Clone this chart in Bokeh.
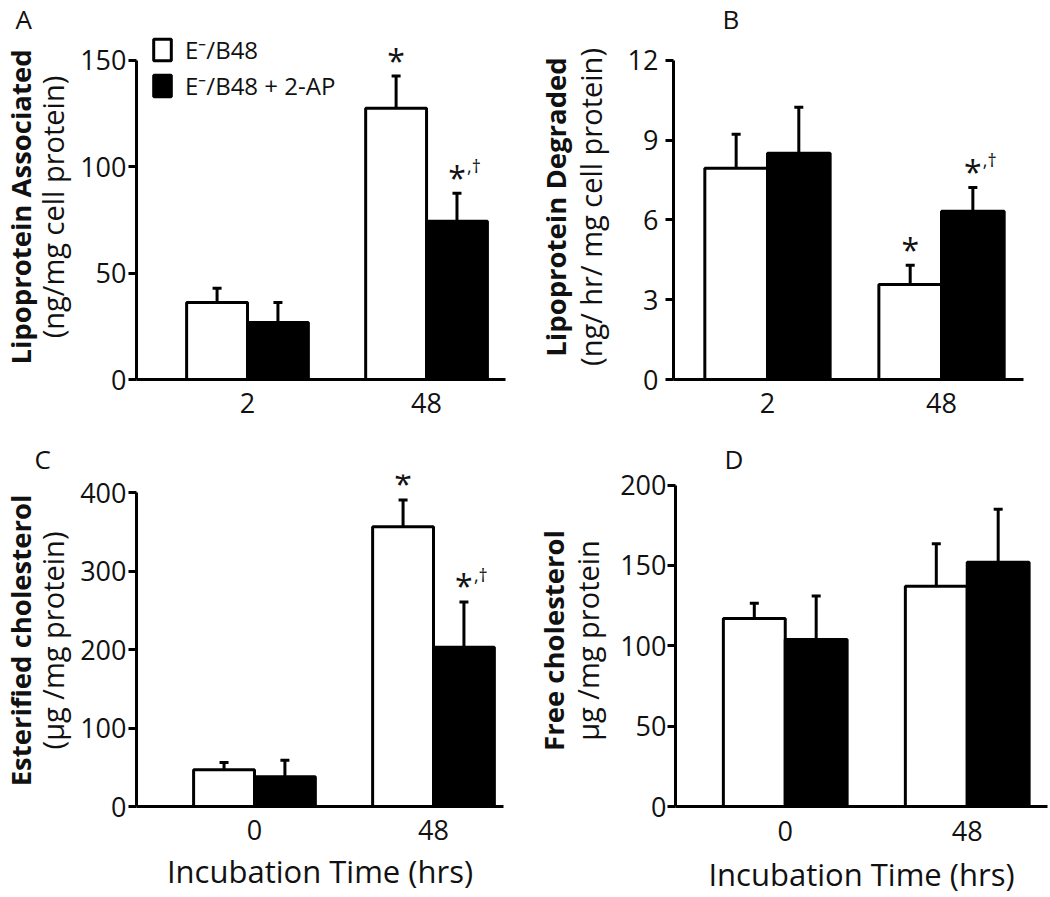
from bokeh.plotting import figure
from bokeh.models import (ColumnDataSource, Range1d, FixedTicker, Whisker, TeeHead,
                          Title, Legend, LegendItem)
from bokeh.layouts import row, column
from bokeh.core.properties import value
from bokeh.embed import file_html
from bokeh.resources import INLINE

FONT = "Open Sans"

series_names = ["E⁻/B48", "E⁻/B48 + 2-AP"]

# ---- Panel A : Lipoprotein associated
a_times = ["2", "48"]
a_ctrl = [36.2, 127.4]
a_ctrl_err = [6.6, 15.1]
a_ap = [26.8, 74.3]
a_ap_err = [9.4, 13.2]
a_ctrl_sig = ["", "*"]
a_ap_sig = ["", "*,†"]
a_yticks = [0, 50, 100, 150]

# ---- Panel B : Lipoprotein degraded
b_times = ["2", "48"]
b_ctrl = [7.94, 3.57]
b_ctrl_err = [1.28, 0.72]
b_ap = [8.50, 6.32]
b_ap_err = [1.73, 0.90]
b_ctrl_sig = ["", "*"]
b_ap_sig = ["", "*,†"]
b_yticks = [0, 3, 6, 9, 12]

# ---- Panel C : Esterified cholesterol
c_times = ["0", "48"]
c_ctrl = [47, 357]
c_ctrl_err = [9, 34]
c_ap = [38, 203]
c_ap_err = [21, 58]
c_ctrl_sig = ["", "*"]
c_ap_sig = ["", "*,†"]
c_yticks = [0, 100, 200, 300, 400]

# ---- Panel D : Free cholesterol
d_times = ["0", "48"]
d_ctrl = [117, 137]
d_ctrl_err = [9.5, 26.5]
d_ap = [104, 152]
d_ap_err = [27, 33]
d_ctrl_sig = ["", ""]
d_ap_sig = ["", ""]
d_yticks = [0, 50, 100, 150, 200]

# layout geometry (pixels / range ends)
GEOM = {
    "A": dict(w=520, h=440, bl=136, br=15, bb=61, y1=162.0, x0=0.380, x1=2.441, bw=0.34,
              toff=-121, mls=2, als=5, tso=-17, xls=13, xas=6, leg=(15, 277)),
    "B": dict(w=530, h=440, bl=153, br=27, bb=61, y1=12.965, x0=0.460, x1=2.471, bw=0.36,
              toff=49, mls=7, als=15, tso=-13, xls=13, xas=6),
    "C": dict(w=520, h=457, bl=136, br=17, bb=87, y1=423.5, x0=0.341, x1=2.391, bw=0.34,
              toff=-102, mls=2, als=5, tso=-17, xls=13, xas=7),
    "D": dict(w=530, h=457, bl=155, br=3, bb=90, y1=206.6, x0=0.397, x1=2.441, bw=0.34,
              toff=49, mls=1, als=10, tso=-13, xls=14, xas=9),
}

TICK_SIZE = "27px"
YLAB_SIZE = "29px"
YBOLD_SIZE = "27.5px"
XLAB_SIZE = "31px"
TXT = "#111111"


def make_panel(letter, cats, ctrl, ctrl_err, ap, ap_err, ctrl_sig, ap_sig, yticks,
               ylab_bold, ylab, xlab, show_legend=False):
    g = GEOM[letter]
    bw = g["bw"]
    centers = [i + 1 for i in range(len(cats))]
    p = figure(width=g["w"], height=g["h"], output_backend="svg", toolbar_location=None,
               x_range=Range1d(g["x0"], g["x1"]), y_range=Range1d(0, g["y1"]),
               min_border_left=g["bl"], min_border_right=g["br"], min_border_top=0,
               min_border_bottom=g["bb"], title=None)
    p.title = Title(text=letter, align="left", offset=g["toff"], standoff=-4,
                    text_font=FONT, text_font_size="26px", text_font_style="normal",
                    text_color=TXT)
    p.xgrid.visible = False
    p.ygrid.visible = False
    p.outline_line_color = None
    p.background_fill_color = "white"
    p.border_fill_color = "white"

    renderers = []
    for k, (vals, errs, sig, fill) in enumerate([(ctrl, ctrl_err, ctrl_sig, "white"),
                                                  (ap, ap_err, ap_sig, "black")]):
        xs = [c + (k - 0.5) * bw for c in centers]
        src = ColumnDataSource(dict(
            x=xs, top=vals, upper=[v + e for v, e in zip(vals, errs)],
            star=[s[:1] for s in sig], extra=[s[1:] for s in sig]))
        wh = Whisker(base="x", lower="top", upper="upper", dimension="height", source=src,
                     line_color="black", line_width=3, lower_head=None,
                     upper_head=TeeHead(size=9, line_width=3, line_color="black"))
        p.add_layout(wh)
        r = p.vbar(x="x", top="top", bottom=0, width=bw, source=src, fill_color=fill,
                   line_color="black", line_width=3)
        renderers.append(r)
        p.text(x="x", y="upper", text="star", source=src, text_align="center",
               text_baseline="alphabetic", y_offset=-16, text_font=value(FONT),
               text_font_size="32px", text_color=TXT)
        p.text(x="x", y="upper", text="extra", source=src, text_align="left",
               text_baseline="alphabetic", x_offset=10, y_offset=-27, text_font=value(FONT),
               text_font_size="18px", text_color=TXT)

    xa = p.xaxis[0]
    xa.ticker = FixedTicker(ticks=centers)
    xa.major_label_overrides = {c: t for c, t in zip(centers, cats)}
    xa.major_tick_out = 0
    xa.major_tick_in = 0
    xa.minor_tick_out = 0
    xa.minor_tick_in = 0
    xa.axis_line_width = 3
    xa.axis_line_color = "black"
    xa.major_label_text_font = FONT
    xa.major_label_text_font_size = TICK_SIZE
    xa.major_label_text_color = TXT
    xa.major_label_standoff = g["xls"]
    if xlab:
        xa.axis_label = xlab
        xa.axis_label_text_font = FONT
        xa.axis_label_text_font_size = XLAB_SIZE
        xa.axis_label_text_font_style = "normal"
        xa.axis_label_text_color = TXT
        xa.axis_label_standoff = g["xas"]

    ya = p.yaxis[0]
    ya.ticker = FixedTicker(ticks=yticks)
    ya.bounds = (yticks[0], yticks[-1])
    ya.major_tick_out = 8
    ya.major_tick_in = 0
    ya.minor_tick_out = 0
    ya.minor_tick_in = 0
    ya.major_tick_line_width = 3
    ya.axis_line_width = 3
    ya.axis_line_color = "black"
    ya.major_label_text_font = FONT
    ya.major_label_text_font_size = TICK_SIZE
    ya.major_label_text_color = TXT
    ya.major_label_standoff = g["mls"]
    ya.axis_label = ylab
    ya.axis_label_text_font = FONT
    ya.axis_label_text_font_size = YLAB_SIZE
    ya.axis_label_text_font_style = "normal"
    ya.axis_label_text_color = TXT
    ya.axis_label_standoff = g["als"]

    p.add_layout(Title(text=ylab_bold, text_font=FONT, text_font_size=YBOLD_SIZE,
                       text_font_style="bold", text_color=TXT, align="center",
                       standoff=g["tso"]), "left")

    if show_legend:
        leg = Legend(items=[LegendItem(label=series_names[0], renderers=[renderers[0]]),
                            LegendItem(label=series_names[1], renderers=[renderers[1]])],
                     location=g["leg"], glyph_width=22, glyph_height=27, spacing=3,
                     padding=0, margin=0, label_standoff=12, border_line_color=None,
                     background_fill_alpha=0, label_text_font=FONT,
                     label_text_font_size="24px", label_text_color=TXT,
                     label_height=33)
        p.add_layout(leg, "center")
    return p


pA = make_panel("A", a_times, a_ctrl, a_ctrl_err, a_ap, a_ap_err, a_ctrl_sig, a_ap_sig,
                a_yticks, "Lipoprotein Associated", "(ng/mg cell protein)", None, True)
pB = make_panel("B", b_times, b_ctrl, b_ctrl_err, b_ap, b_ap_err, b_ctrl_sig, b_ap_sig,
                b_yticks, "Lipoprotein Degraded", "(ng/ hr/ mg cell protein)", None)
pC = make_panel("C", c_times, c_ctrl, c_ctrl_err, c_ap, c_ap_err, c_ctrl_sig, c_ap_sig,
                c_yticks, "Esterified cholesterol", "(µg /mg protein)",
                "Incubation Time (hrs)")
pD = make_panel("D", d_times, d_ctrl, d_ctrl_err, d_ap, d_ap_err, d_ctrl_sig, d_ap_sig,
                d_yticks, "Free cholesterol", "µg /mg protein", "Incubation Time (hrs)")

layout = column(row(pA, pB), row(pC, pD))
open("out.html", "w").write(file_html(layout, INLINE, "Lipoprotein and cholesterol"))
